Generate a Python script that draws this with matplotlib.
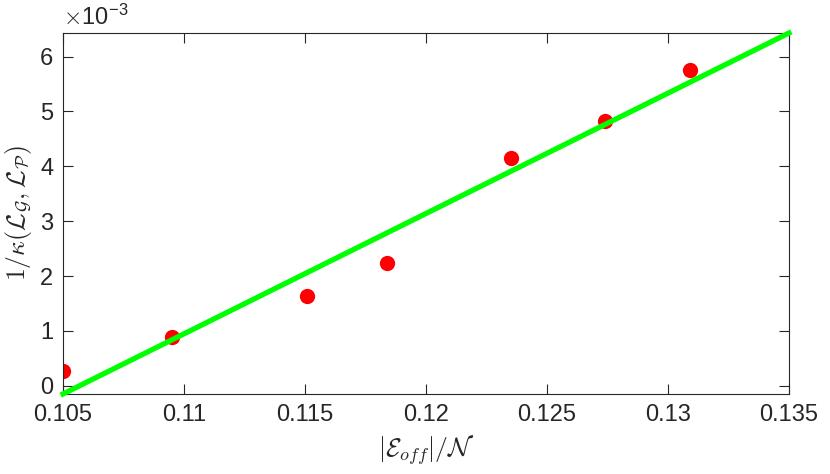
import numpy as np
import matplotlib
matplotlib.use('Agg')
import matplotlib.pyplot as plt
from matplotlib.ticker import FuncFormatter

# data
e_off = [0.1050, 0.1095, 0.1151, 0.1184, 0.1235, 0.1274, 0.1309]
inv_kappa = [0.26e-3, 0.89e-3, 1.63e-3, 2.24e-3, 4.16e-3, 4.83e-3, 5.75e-3]

# fitted line end points
fit_x = [0.105, 0.135]
fit_y = [-0.15e-3, 6.43e-3]

xticks = [0.105, 0.11, 0.115, 0.12, 0.125, 0.13, 0.135]
yticks = [0, 1e-3, 2e-3, 3e-3, 4e-3, 5e-3, 6e-3]

plt.rcParams['font.family'] = ['Liberation Sans', 'DejaVu Sans']
plt.rcParams['mathtext.fontset'] = 'cm'

fig = plt.figure(figsize=(8.3, 4.74), dpi=100)
ax = fig.add_axes([0.0759, 0.1688, 0.8747, 0.7616])

ax.plot(e_off, inv_kappa, 'o', color='#ff0000', markersize=11, markeredgewidth=0, zorder=2)
ax.plot(fit_x, fit_y, '-', color='#00ff00', linewidth=3.8, zorder=3, clip_on=False)

ax.set_xlim(0.105, 0.135)
ax.set_ylim(-0.15e-3, 6.43e-3)
ax.set_xticks(xticks)
ax.set_xticklabels(['0.105', '0.11', '0.115', '0.12', '0.125', '0.13', '0.135'])
ax.set_yticks(yticks)
ax.yaxis.set_major_formatter(FuncFormatter(lambda v, p: '%d' % round(v * 1e3)))

dark = '#262626'
for s in ax.spines.values():
    s.set_color(dark)
    s.set_linewidth(0.8)
ax.tick_params(direction='in', length=7, width=0.8, colors=dark,
               labelsize=17, top=True, right=True, pad=7)

ax.text(0.0, 1.008, r'$\times$10$^{\mathregular{-3}}$', transform=ax.transAxes,
        fontsize=17, color=dark, ha='left', va='bottom')

ax.set_xlabel(r'$|\mathcal{E}_{off}|/\mathcal{N}$', fontsize=18.5, color=dark, labelpad=5)
ax.set_ylabel(r'$1/\kappa(\mathcal{L}_\mathcal{G},\mathcal{L}_\mathcal{P})$', fontsize=18.5,
              color=dark, labelpad=4)

fig.savefig('out.png', dpi=100)
